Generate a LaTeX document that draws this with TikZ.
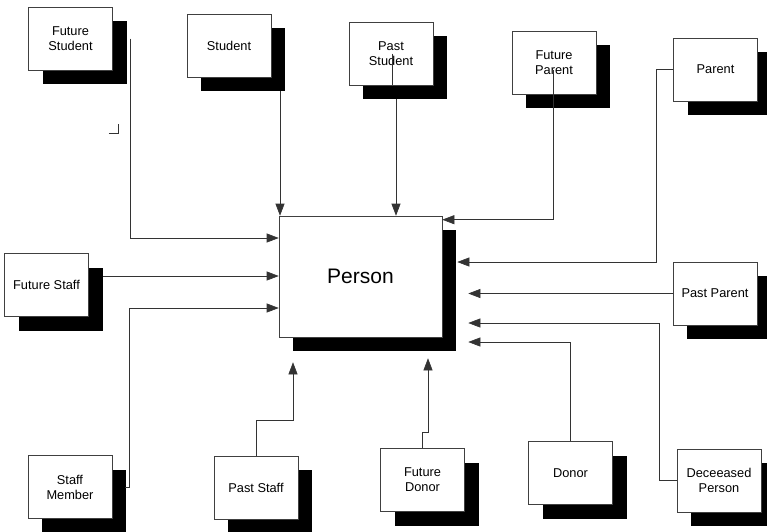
\documentclass[tikz,border=0pt]{standalone}
\usepackage{fontspec}
\setmainfont{Liberation Sans}
\usetikzlibrary{calc,shadows,arrows.meta}
\begin{document}
\begin{tikzpicture}[x=1pt,y=-1pt,
  ent/.style={draw=black!75, line width=0.6pt, fill=white, minimum width=84pt, minimum height=63pt,
    inner sep=1pt, align=center, font=\fontsize{12.8}{15}\selectfont,
    drop shadow={shadow xshift=14pt,shadow yshift=-14pt,fill=black,opacity=1}},
  big/.style={ent, minimum width=163pt, minimum height=121pt, font=\fontsize{21}{24}\selectfont},
  conn/.style={draw=black!80, line width=0.6pt},
  arr/.style={conn, -{Triangle[length=12pt,width=9pt]}}
]
\useasboundingbox[fill=white] (0,0) rectangle (767,531);

\node[big] (person) at (360.5,276.5) {Person};
\node[ent] (fstu) at (70.5,38.5) {Future\\Student};
\node[ent] (stu) at (229,45.5) {Student};
\node[ent] (pstu) at (391,53.5) {Past\\Student};
\node[ent] (fpar) at (554,62.5) {Future\\Parent};
\node[ent] (par) at (715.5,69.5) {Parent};
\node[ent] (ppar) at (715,293.5) {Past Parent};
\node[ent] (fstaff) at (46.5,285) {Future Staff};
\node[ent] (staffm) at (70,487) {Staff\\Member};
\node[ent] (pstaff) at (256,487.5) {Past Staff};
\node[ent] (fdon) at (422.5,480) {Future\\Donor};
\node[ent] (don) at (570.5,473) {Donor};
\node[ent] (dec) at (719,480.5) {Deceeased\\Person};

% connectors on the left
\draw[arr] ($(fstu.east)+(17,0)$) |- ($(person.west)+(0,-38.5)$);
\draw[arr] ($(fstaff.east)+(14,-9)$) coordinate (f1) -- (f1 -| person.west);
\draw[arr] ($(staffm.east)+(13,0)$) -- ++(4,0) |- ($(person.west)+(0,31.5)$);
% connectors on top
\draw[arr] ($(stu.south)+(51,14)$) coordinate (s1) -- (s1 |- person.north);
\draw[conn] ($(pstu.center)+(1,0)$) -- ($(pstu.south)+(1,0)$);
\draw[arr] ($(pstu.south)+(5,14)$) coordinate (p1) -- (p1 |- person.north);
\draw[arr] ($(fpar.center)+(-1,7.5)$) |- ($(person.north east)+(0,4)$);
% connectors on the right
\draw[arr] (par.west) -- ++(-17,0) |- ($(person.east)+(15,-14.5)$);
\draw[arr] (ppar.west) -- ($(person.east)+(26,17)$);
\draw[arr] (dec.west) -- ++(-17,0) |- ($(person.east)+(26,46.5)$);
\draw[arr] (don.north) |- ($(person.east)+(26,65.5)$);
% connectors from below
\draw[arr] (fdon.north) -- ++(0,-16) -| ($(person.south)+(67.5,21)$);
\draw[arr] (pstaff.north) -- ++(0,-35) -| ($(person.south)+(-67.5,25)$);
% small stray mark
\draw[conn] ($(fstu.south east)+(-4,63)$) -- ++(9,0) -- ++(0,-9);
\end{tikzpicture}
\end{document}
